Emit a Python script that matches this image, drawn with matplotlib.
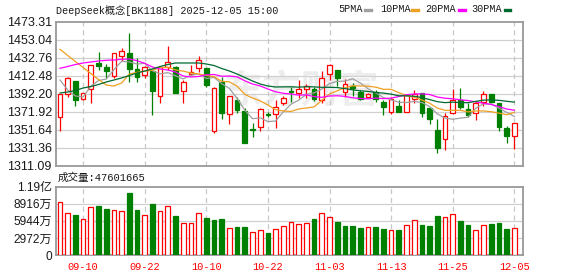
import numpy as np
import pandas as pd
import matplotlib
matplotlib.use('Agg')
import matplotlib.pyplot as plt
from matplotlib.lines import Line2D

# ---------------- data ----------------
dates = ['09-05', '09-08', '09-09', '09-10', '09-11', '09-12', '09-15', '09-16', '09-17', '09-18',
         '09-19', '09-22', '09-23', '09-24', '09-25', '09-26', '09-29', '09-30', '10-09', '10-10',
         '10-13', '10-14', '10-15', '10-16', '10-17', '10-20', '10-21', '10-22', '10-23', '10-24',
         '10-27', '10-28', '10-29', '10-30', '10-31', '11-03', '11-04', '11-05', '11-06', '11-07',
         '11-10', '11-11', '11-12', '11-13', '11-14', '11-17', '11-18', '11-19', '11-20', '11-21',
         '11-24', '11-25', '11-26', '11-27', '11-28', '12-01', '12-02', '12-03', '12-04', '12-05']

opens = [1366.29, 1391.30, 1406.51, 1386.23, 1397.16, 1427.12, 1422.28, 1412.48, 1434.67, 1438.05,
         1419.69, 1413.27, 1417.77, 1389.95, 1422.62, 1422.62, 1394.91, 1414.06, 1420.82, 1421.15,
         1350.18, 1405.04, 1369.00, 1385.44, 1373.05, 1352.44, 1354.35, 1369.00, 1369.33, 1381.39,
         1394.91, 1392.65, 1397.16, 1397.16, 1385.11, 1414.39, 1418.90, 1394.45, 1400.88, 1394.45,
         1388.82, 1393.78, 1383.19, 1371.92, 1378.35, 1371.92, 1386.23, 1392.65, 1375.76, 1351.31,
         1341.17, 1370.12, 1385.11, 1374.63, 1370.80, 1383.19, 1391.86, 1381.39, 1353.23, 1344.89]

closes = [1391.53, 1409.55, 1385.11, 1392.65, 1424.19, 1423.60, 1418.11, 1437.71, 1440.30, 1420.36,
          1411.35, 1422.62, 1395.58, 1422.62, 1427.57, 1393.33, 1405.04, 1416.31, 1430.17, 1402.00,
          1398.96, 1370.12, 1389.27, 1373.84, 1336.33, 1350.75, 1374.63, 1368.21, 1377.56, 1387.70,
          1393.78, 1397.50, 1400.88, 1385.89, 1409.55, 1424.19, 1409.55, 1403.13, 1398.62, 1385.89,
          1391.86, 1385.89, 1376.88, 1385.89, 1371.92, 1390.74, 1391.86, 1370.80, 1363.36, 1330.70,
          1367.08, 1385.11, 1377.22, 1368.21, 1382.06, 1391.53, 1383.19, 1355.03, 1344.55, 1358.86]

highs = [1391.53, 1410.68, 1406.51, 1393.33, 1424.53, 1439.18, 1426.00, 1438.39, 1443.68, 1460.24,
         1432.08, 1423.41, 1418.90, 1423.74, 1445.94, 1423.41, 1407.64, 1424.53, 1434.67, 1421.15,
         1400.09, 1411.35, 1390.17, 1388.15, 1376.09, 1359.53, 1375.75, 1371.92, 1385.11, 1389.05,
         1400.09, 1407.64, 1402.79, 1399.40, 1418.11, 1425.66, 1418.90, 1408.76, 1404.26, 1396.37,
         1393.33, 1396.37, 1385.11, 1388.82, 1385.11, 1391.53, 1396.37, 1393.00, 1377.56, 1363.14,
         1370.46, 1397.50, 1398.29, 1382.06, 1383.98, 1395.24, 1391.86, 1381.39, 1355.82, 1358.86]

lows = [1350.52, 1388.82, 1378.35, 1385.11, 1381.39, 1418.90, 1409.55, 1409.89, 1429.04, 1405.72,
        1405.72, 1409.55, 1368.21, 1382.06, 1418.90, 1393.00, 1381.39, 1413.27, 1416.98, 1399.19,
        1347.93, 1363.36, 1357.73, 1370.12, 1336.10, 1343.76, 1350.52, 1366.29, 1353.90, 1380.00,
        1383.19, 1387.02, 1387.02, 1384.00, 1381.39, 1407.64, 1400.88, 1388.82, 1389.61, 1385.11,
        1388.15, 1383.19, 1368.21, 1369.33, 1371.60, 1371.60, 1381.39, 1365.62, 1358.07, 1325.96,
        1328.78, 1369.33, 1374.63, 1365.62, 1362.58, 1378.35, 1381.39, 1350.18, 1336.10, 1329.91]

# volume in 万 (10k)
volumes = [9258, 7372, 6915, 6344, 8401, 8458, 7944, 7887, 7715, 10859,
           7772, 7029, 8801, 7715, 8573, 6744, 5486, 5486, 7372, 6401,
           6058, 6229, 4629, 4858, 4858, 3943, 4286, 3829, 4458, 4972,
           5829, 5315, 5486, 6229, 7372, 6687, 5715, 5029, 5029, 4686,
           4801, 4858, 4515, 4286, 4343, 5144, 6172, 5201, 5029, 6744,
           6687, 7201, 5886, 5201, 4286, 5144, 5372, 5544, 4515, 4760.1665]

# moving-average values at the start of the window (history before 09-05 not shown)
ma5_head = [1407.63, 1396.37, 1389.61, 1388.48]
ma10_head = [1442.22, 1435.23, 1428.48, 1421.72, 1414.96, 1408.20, 1402.00, 1400.88, 1404.26]
ma20_head = [1420.82, 1422.84, 1425.10, 1426.79, 1427.91, 1429.04, 1429.83, 1430.17, 1430.95, 1431.29,
             1429.38, 1426.45, 1422.28, 1420.03, 1418.90, 1416.65, 1412.14, 1411.01, 1411.58]
ma30_head = [1392.99, 1394.12, 1395.81, 1398.62, 1400.31, 1402.57, 1405.38, 1407.63, 1409.89, 1412.70,
             1415.52, 1417.77, 1420.03, 1422.84, 1425.10, 1426.79, 1426.79, 1426.79, 1426.79, 1425.66,
             1423.97, 1420.59, 1417.77, 1414.39, 1410.45, 1406.51, 1403.13, 1400.88, 1399.75]

price_ticks = [1311.09, 1331.36, 1351.64, 1371.92, 1392.20, 1412.48, 1432.76, 1453.04, 1473.31]
price_tick_labels = ['1311.09', '1331.36', '1351.64', '1371.92', '1392.20',
                     '1412.48', '1432.76', '1453.04', '1473.31']
vol_ticks = [0, 2972, 5944, 8916, 11888]
vol_tick_labels = ['0', '2972万', '5944万', '8916万', '1.19亿']
xtick_dates = ['09-10', '09-22', '10-10', '10-22', '11-03', '11-13', '11-25', '12-05']

title = 'DeepSeek概念[BK1188] 2025-12-05 15:00'
ma_names = ['5PMA', '10PMA', '20PMA', '30PMA']
ma_colors = ['#a0a0a0', '#f0a020', '#ff00ff', '#006a30']

# ---------------- derived ----------------
o = np.array(opens); c = np.array(closes); h = np.array(highs); l = np.array(lows)
v = np.array(volumes)
n = len(dates)
x = np.arange(n)
s = pd.Series(c)

def ma(win, head):
    m = s.rolling(win).mean().to_numpy()
    m[:len(head)] = head
    return m

mas = [ma(5, ma5_head), ma(10, ma10_head), ma(20, ma20_head), ma(30, ma30_head)]

RED = '#ff0000'
GREEN = '#008000'
up = c >= o
prev = np.concatenate([[o[0]], c[:-1]])
vol_up = c >= prev

# ---------------- figure ----------------
W, H = 578, 276
fig = plt.figure(figsize=(W / 100, H / 100), dpi=100)
fig.patch.set_facecolor('white')

def rect(x0, y0, x1, y1):
    return [x0 / W, 1 - y1 / H, (x1 - x0) / W, (y1 - y0) / H]

axp = fig.add_axes(rect(56, 21.7, 523, 165.7))
axv = fig.add_axes(rect(56, 186.7, 523, 255))

num_font = ['Liberation Sans', 'Noto Sans CJK SC']
mono_font = ['Liberation Mono', 'Noto Sans CJK SC']

for ax in (axp, axv):
    ax.set_xlim(-0.52, n + 0.13)
    for sp in ax.spines.values():
        sp.set_color('#999999')
        sp.set_linewidth(1.3)
    ax.tick_params(length=0)

grid_idx = [dates.index(d) for d in xtick_dates]

# price panel
axp.set_ylim(price_ticks[0], price_ticks[-1])
axp.set_yticks(price_ticks)
axp.set_yticklabels(price_tick_labels, fontsize=9, family=num_font, color='#1a1a1a')
axp.tick_params(axis='y', pad=3)
axp.set_xticks([])
for t in price_ticks[1:-1]:
    axp.axhline(t, color='#d0d0d0', lw=0.9, zorder=1)
for g in grid_idx:
    axp.axvline(g, color='#c8c8c8', lw=0.9, ls=(0, (4, 3)), zorder=1)

axp.text(0.525, 0.51, '东方财富', transform=axp.transAxes, ha='center', va='center',
         fontsize=28, fontweight='bold', color='#ededed', family=['Noto Sans CJK SC'],
         fontstyle='italic', zorder=0.5)

cols = np.where(up, RED, GREEN)
axp.vlines(x, l, h, colors=cols, lw=0.9, zorder=3)
body_bot = np.minimum(o, c)
body_h = np.maximum(np.abs(c - o), 0.7)
axp.bar(x[up], body_h[up], bottom=body_bot[up], width=0.62, facecolor='white',
        edgecolor=RED, lw=0.9, zorder=4)
axp.bar(x[~up], body_h[~up], bottom=body_bot[~up], width=0.62, facecolor=GREEN,
        edgecolor=GREEN, lw=0.9, zorder=4)

for m, col in zip(mas, ma_colors):
    axp.plot(x, m, color=col, lw=0.9, zorder=5)

# volume panel
axv.set_ylim(vol_ticks[0], vol_ticks[-1])
axv.set_yticks(vol_ticks)
axv.set_yticklabels(vol_tick_labels, fontsize=8.6, family=num_font, color='#1a1a1a')
axv.tick_params(axis='y', pad=3)
for t in vol_ticks[1:-1]:
    axv.axhline(t, color='#d0d0d0', lw=0.9, zorder=1)
for g in grid_idx:
    axv.axvline(g, color='#c8c8c8', lw=0.9, ls=(0, (4, 3)), zorder=1)
axv.bar(x[vol_up], v[vol_up], width=0.62, facecolor='white', edgecolor=RED, lw=0.9, zorder=3)
axv.bar(x[~vol_up], v[~vol_up], width=0.62, facecolor=GREEN, edgecolor=GREEN, lw=0.9, zorder=3)
axv.set_xticks(grid_idx)
axv.set_xticklabels(xtick_dates, fontsize=7.4, family=mono_font, color=RED)
axv.tick_params(axis='x', pad=5)

# texts
fig.text(56 / W, 1 - 10.5 / H, title, ha='left', va='center', fontsize=7.3,
         family=mono_font, color='#1a1a1a')
fig.text(58 / W, 1 - 178 / H, '成交量:%d' % int(round(v[-1] * 10000)), ha='left', va='center',
         fontsize=7.6, family=mono_font, color='#1a1a1a')

leg_text_x = [338, 380, 425, 471]
leg_dash_x = [(365, 371), (412, 418), (459, 465), (505, 510)]
for name, col, tx, (d0, d1) in zip(ma_names, ma_colors, leg_text_x, leg_dash_x):
    fig.text(tx / W, 1 - 9.5 / H, name, ha='left', va='center', fontsize=7.3,
             family=mono_font, color='#1a1a1a')
    fig.add_artist(Line2D([d0 / W, d1 / W], [1 - 9.5 / H, 1 - 9.5 / H], color=col, lw=2.4,
                          transform=fig.transFigure))

fig.savefig('out.png', dpi=100, facecolor='white')
